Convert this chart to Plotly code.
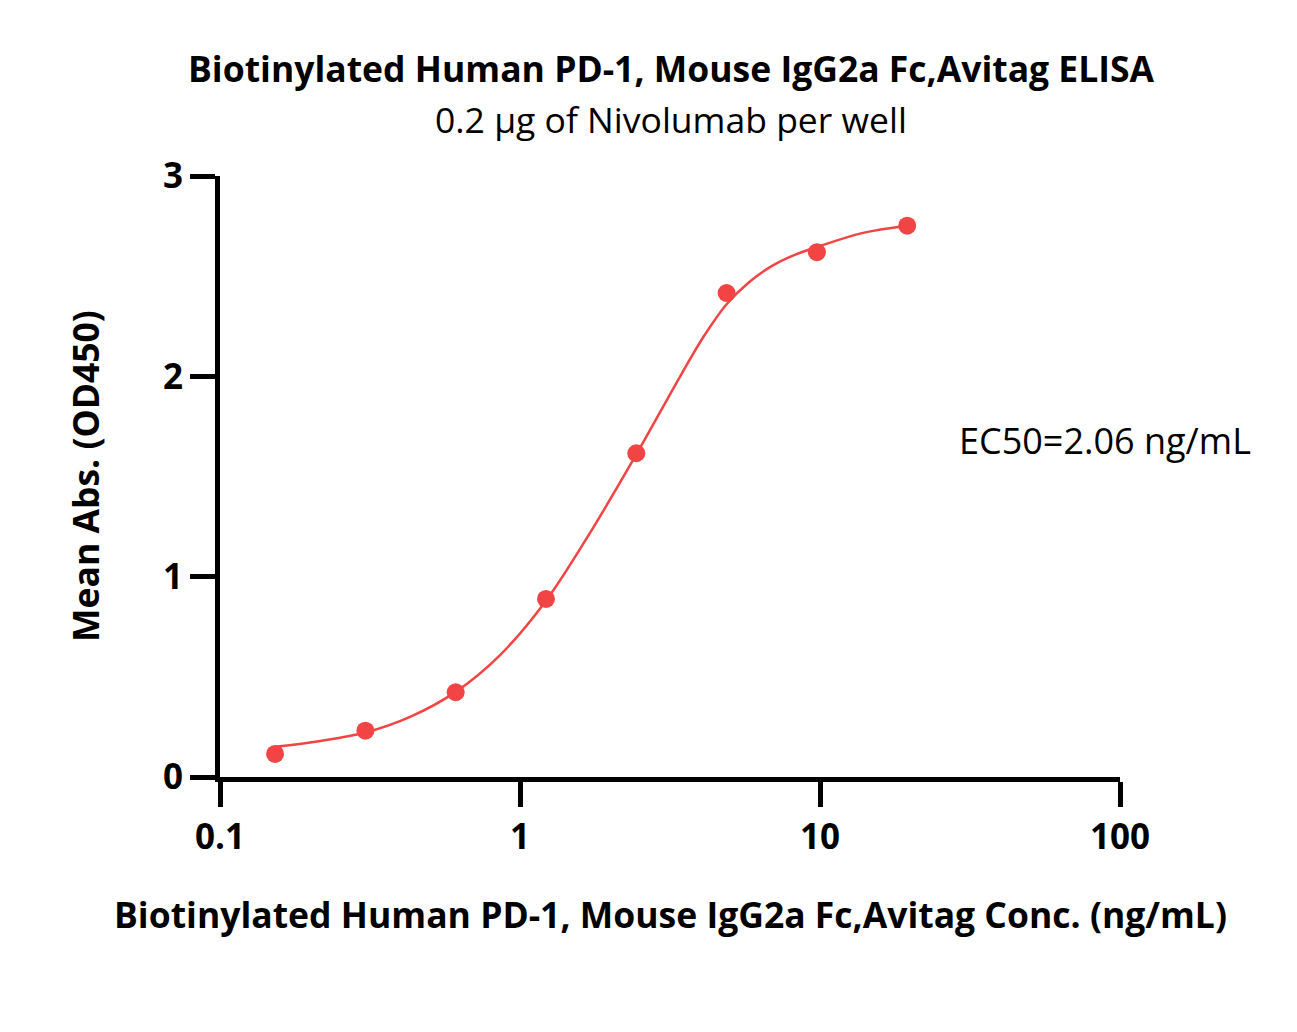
import plotly.graph_objects as go

# Measured points (ng/mL vs mean OD450)
conc = [0.1526, 0.3052, 0.6104, 1.2207, 2.4414, 4.8828, 9.7656, 19.53]
od450 = [0.115, 0.231, 0.423, 0.889, 1.616, 2.416, 2.620, 2.752]

# Fitted curve
fit_conc = [0.1526, 0.216, 0.3052, 0.43, 0.6104, 0.86, 1.2207, 1.73, 2.4414,
            3.45, 4.1, 4.8828, 5.8, 6.9, 8.2, 9.7656, 13.8, 19.53]
fit_od = [0.151, 0.180, 0.222, 0.300, 0.425, 0.610, 0.880, 1.230, 1.610,
          2.010, 2.200, 2.360, 2.470, 2.550, 2.605, 2.645, 2.715, 2.752]

RED = "#F24444"
FONT = "Open Sans"

fig = go.Figure()
fig.add_trace(go.Scatter(
    x=fit_conc, y=fit_od, mode="lines",
    line=dict(color=RED, width=2.5, shape="spline", smoothing=1.0),
    hoverinfo="skip",
))
fig.add_trace(go.Scatter(
    x=conc, y=od450, mode="markers",
    marker=dict(size=18, color=RED),
))

axis_common = dict(
    showline=True, linecolor="black", linewidth=5,
    ticks="outside", ticklen=25, tickwidth=5, tickcolor="black",
    showgrid=False, zeroline=False,
    tickfont=dict(family=FONT, size=35, color="black", weight="bold"),
)

# page body has an 8px margin, so everything is laid out 8px up/left
OFF = 8
W, H = 1297, 1032
L, T = 220 - OFF, 176 - OFF
R = W - L - 900
B = H - T - 601

fig.update_layout(
    width=W, height=H,
    plot_bgcolor="white", paper_bgcolor="white",
    margin=dict(l=L, r=R, t=T, b=B),
    showlegend=False,
    xaxis=dict(type="log", range=[-1, 2], tickvals=[0.1, 1, 10, 100],
               ticktext=["0.1", "1", "10", "100"], **axis_common),
    yaxis=dict(range=[0, 3], tickvals=[0, 1, 2, 3], **axis_common),
    font=dict(family=FONT, color="black"),
    annotations=[
        dict(text="<b>Biotinylated Human PD-1, Mouse IgG2a Fc,Avitag ELISA</b>",
             x=671, y=68, showarrow=False, font=dict(size=35.5)),
        dict(text="0.2 µg of Nivolumab per well",
             x=671, y=119, showarrow=False, font=dict(size=35.5)),
        dict(text="EC50=2.06 ng/mL", x=1105, y=440, showarrow=False,
             font=dict(size=36)),
        dict(text="<b>Mean Abs. (OD450)</b>", x=85, y=476, showarrow=False,
             textangle=-90, font=dict(size=35.5)),
        dict(text="<b>Biotinylated Human PD-1, Mouse IgG2a Fc,Avitag Conc. (ng/mL)</b>",
             x=670, y=914, showarrow=False, font=dict(size=35.5)),
    ],
)

# convert pixel positions to paper coordinates
pw, ph = W - L - R, H - T - B
for a in fig.layout.annotations:
    px, py = a.x - OFF, a.y - OFF
    a.x = (px - L) / pw
    a.y = 1 - (py - T) / ph
    a.xref = "paper"
    a.yref = "paper"
    a.xanchor = "center"
    a.yanchor = "middle"

fig.write_html("out.html")
